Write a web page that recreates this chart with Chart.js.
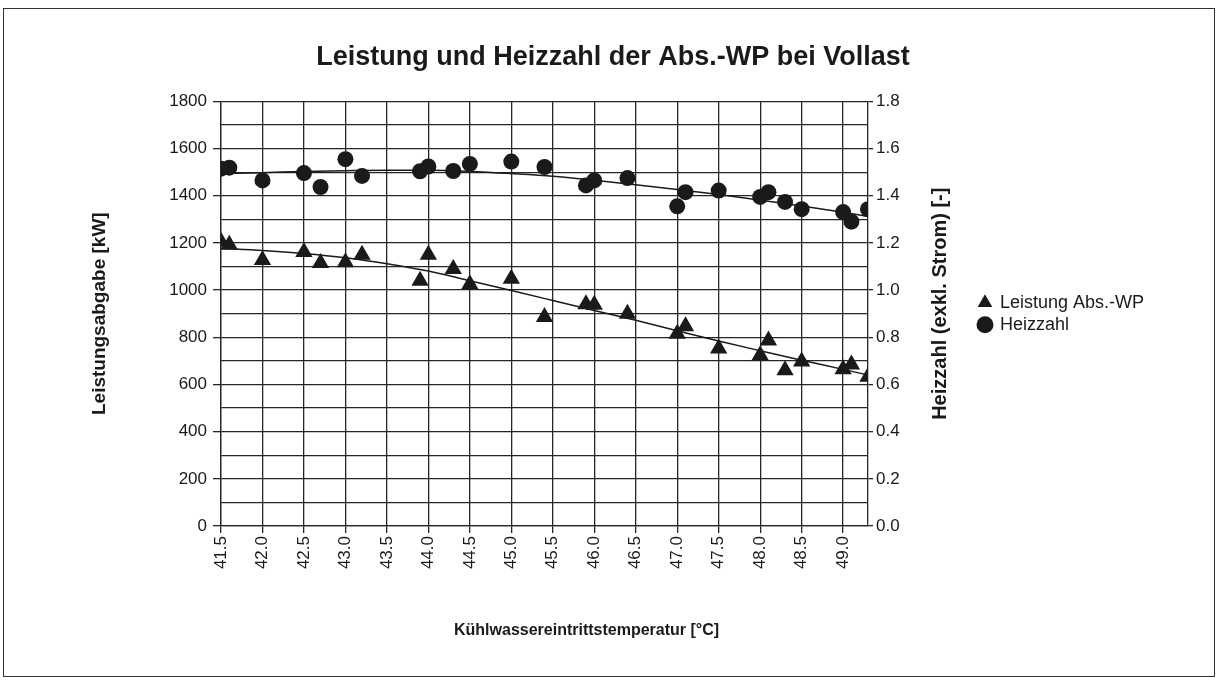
<!DOCTYPE html>
<html><head><meta charset="utf-8">
<script src="https://cdn.jsdelivr.net/npm/chart.js@4/dist/chart.umd.min.js"></script>
<style>
html,body{margin:0;padding:0;background:#fff;}
#wrap{position:relative;width:1218px;height:682px;}
#frame{position:absolute;left:3px;top:8px;width:1212px;height:669px;border:1px solid #333;box-sizing:border-box;}
canvas{position:absolute;left:0;top:0;}
</style></head><body>
<div id="wrap"><div id="frame"></div><canvas id="c" width="1218" height="682"></canvas></div>
<script>
const chartTitle = 'Leistung und Heizzahl der Abs.-WP bei Vollast';
const xTitle = 'Kühlwassereintrittstemperatur [°C]';
const yLeftTitle = 'Leistungsabgabe [kW]';
const yRightTitle = 'Heizzahl (exkl. Strom) [-]';
const seriesNames = ['Leistung Abs.-WP', 'Heizzahl'];

const temps = [41.5, 41.6, 42.0, 42.5, 42.7, 43.0, 43.2, 43.9, 44.0, 44.3, 44.5, 45.0, 45.4, 45.9, 46.0, 46.4, 47.0, 47.1, 47.5, 48.0, 48.1, 48.3, 48.5, 49.0, 49.1, 49.3];
const leistung = [1205, 1192, 1128, 1162, 1115, 1118, 1150, 1040, 1150, 1090, 1025, 1048, 886, 940, 938, 900, 815, 847, 752, 724, 786, 660, 697, 665, 685, 633];
const heizzahl = [1.515, 1.519, 1.465, 1.496, 1.437, 1.555, 1.484, 1.504, 1.524, 1.505, 1.535, 1.545, 1.522, 1.444, 1.465, 1.475, 1.355, 1.415, 1.422, 1.395, 1.415, 1.374, 1.343, 1.331, 1.290, 1.343];

const trendTemps = [41.5, 42.0, 42.5, 43.0, 43.5, 44.0, 44.5, 45.0, 45.5, 46.0, 46.5, 47.0, 47.5, 48.0, 48.5, 49.0, 49.3];
const leistungTrend = [1177, 1168, 1155, 1137, 1112, 1081, 1040, 998, 956, 914, 872, 828, 784, 743, 703, 664, 640];
const heizzahlTrend = [1.494, 1.498, 1.503, 1.506, 1.508, 1.508, 1.503, 1.494, 1.483, 1.466, 1.447, 1.427, 1.405, 1.381, 1.357, 1.330, 1.312];

const xTickValues = [41.5, 42.0, 42.5, 43.0, 43.5, 44.0, 44.5, 45.0, 45.5, 46.0, 46.5, 47.0, 47.5, 48.0, 48.5, 49.0];
const xMin = 41.5, xMax = 49.3;
const yLeftMin = 0, yLeftMax = 1800, yLeftStep = 100, yLeftLabelStep = 200;
const yRightMin = 0, yRightMax = 1.8, yRightStep = 0.2;

const FONT = '"Liberation Sans", Arial, sans-serif';
const INK = '#1a1a1a';
const GRID = '#262626';

const toXY = (xs, ys) => xs.map((x, i) => ({x: x, y: ys[i]}));

// layout geometry
const W = 1218;
const legendFontSize = 18, legendBox = 12, legendPad = 4;
const mctx = document.createElement('canvas').getContext('2d');
mctx.font = legendFontSize + 'px ' + FONT;
const legendTextW = Math.max(...seriesNames.map(t => mctx.measureText(t).width));
const legendW = 2 * legendPad + legendBox + legendFontSize / 2 + legendTextW + 4;
const plotLeft = 221, plotRight = 870, rightAxisW = 107, xAxisH = 156;
const padRight = W - plotRight - rightAxisW - legendW;
const titleCenterX = 613;
const padLeft = Math.max(0, 2 * titleCenterX - W + padRight);
const leftAxisW = plotLeft - padLeft;
const yTitleFont = 19;
const leftTitleX = 100;
const leftTitlePad = leftTitleX - padLeft - yTitleFont * 0.6;

const axisTitlesPlugin = {
  id: 'axisTitles',
  afterDraw(chart) {
    const ctx = chart.ctx, a = chart.chartArea, s = chart.scales.y2;
    ctx.save();
    ctx.fillStyle = INK;
    ctx.textAlign = 'center';
    ctx.textBaseline = 'middle';
    ctx.font = 'bold 16px ' + FONT;
    ctx.fillText(xTitle, a.left + (a.right - a.left) * 0.565, 631);
    ctx.translate(s.left + 72, (a.top + a.bottom) / 2 - 10);
    ctx.rotate(-Math.PI / 2);
    ctx.font = 'bold 20px ' + FONT;
    ctx.fillText(yRightTitle, 0, 0);
    ctx.restore();
  }
};

new Chart(document.getElementById('c'), {
  type: 'scatter',
  data: {
    datasets: [
      {label: seriesNames[0], data: toXY(temps, leistung), yAxisID: 'y', pointStyle: 'triangle', pointRadius: 10, pointHoverRadius: 10, backgroundColor: INK, borderColor: INK, borderWidth: 0, showLine: false},
      {label: seriesNames[1], data: toXY(temps, heizzahl), yAxisID: 'y2', pointStyle: 'circle', pointRadius: 8, pointHoverRadius: 8, backgroundColor: INK, borderColor: INK, borderWidth: 0, showLine: false},
      {label: 'trendL', data: toXY(trendTemps, leistungTrend), yAxisID: 'y', showLine: true, pointRadius: 0, borderColor: INK, borderWidth: 1.5, tension: 0.4, cubicInterpolationMode: 'monotone', fill: false},
      {label: 'trendH', data: toXY(trendTemps, heizzahlTrend), yAxisID: 'y2', showLine: true, pointRadius: 0, borderColor: INK, borderWidth: 1.5, tension: 0.4, cubicInterpolationMode: 'monotone', fill: false}
    ]
  },
  options: {
    responsive: false,
    animation: false,
    layout: {padding: {left: padLeft, right: padRight, top: 0, bottom: 0}},
    plugins: {
      tooltip: {enabled: false},
      title: {display: true, text: chartTitle, color: INK, font: {family: FONT, size: 27, weight: 'bold'}, padding: {top: 41, bottom: 28}},
      legend: {
        display: true, position: 'right', align: 'center', fullSize: false,
        labels: {usePointStyle: true, boxWidth: legendBox, boxHeight: legendBox, padding: legendPad, color: INK, font: {family: FONT, size: legendFontSize},
          filter: item => item.datasetIndex < 2}
      }
    },
    scales: {
      x: {
        type: 'linear', position: 'bottom', min: xMin, max: xMax,
        afterBuildTicks: s => { s.ticks = xTickValues.map(v => ({value: v})); },
        afterFit: s => { s.height = xAxisH; },
        ticks: {autoSkip: false, minRotation: 90, maxRotation: 90, color: INK, font: {family: FONT, size: 17}, padding: 3,
          callback: v => Number(v).toFixed(1)},
        grid: {color: GRID, lineWidth: 1.3, tickLength: 7, tickColor: GRID},
        border: {display: true, color: GRID, width: 1.3},
        title: {display: false}
      },
      y: {
        type: 'linear', position: 'left', min: yLeftMin, max: yLeftMax,
        afterFit: s => { s.width = leftAxisW; },
        ticks: {stepSize: yLeftStep, color: INK, font: {family: FONT, size: 17}, padding: 6,
          callback: v => (Math.round(v) % yLeftLabelStep === 0 ? String(Math.round(v)) : '')},
        grid: {color: GRID, lineWidth: 1.3, tickLength: 8,
          tickColor: ctx => (ctx.tick && Math.round(ctx.tick.value) % yLeftLabelStep === 0 ? GRID : 'rgba(0,0,0,0)')},
        border: {display: true, color: GRID, width: 1.3},
        title: {display: true, text: yLeftTitle, color: INK, font: {family: FONT, size: yTitleFont, weight: 'bold'}, padding: {top: leftTitlePad, bottom: 0}}
      },
      y2: {
        type: 'linear', position: 'right', min: yRightMin, max: yRightMax,
        afterFit: s => { s.width = rightAxisW; },
        ticks: {stepSize: yRightStep, color: INK, font: {family: FONT, size: 17}, padding: 3,
          callback: v => Number(v).toFixed(1)},
        grid: {drawOnChartArea: false, color: GRID, lineWidth: 1.3, tickLength: 5},
        border: {display: true, color: GRID, width: 1.3}
      }
    }
  },
  plugins: [axisTitlesPlugin]
});
</script>
</body></html>
